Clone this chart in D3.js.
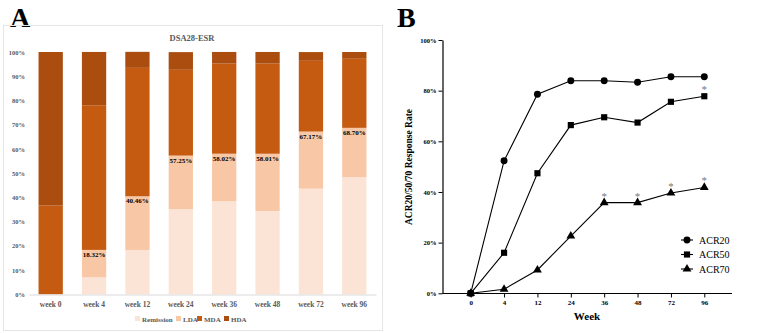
<!DOCTYPE html>
<html>
<head>
<meta charset="utf-8">
<script src="https://cdn.jsdelivr.net/npm/d3@7"></script>
<style>
  body { margin: 0; background: #fff; }
  svg { display: block; font-family: "Liberation Serif", "Times New Roman", serif; }
</style>
</head>
<body>
<div id="chart"></div>
<script>
// Panel A data (band heights, %)
const weeksA = ["week 0", "week 4", "week 12", "week 24", "week 36", "week 48", "week 72", "week 96"];
const remission = [0, 7.0, 18.3, 35.1, 38.4, 34.4, 43.6, 48.3];
const lda = [0, 11.32, 22.16, 22.15, 19.62, 23.61, 23.57, 20.4];
const mda = [36.6, 59.7, 53.0, 35.4, 37.2, 37.2, 29.2, 28.5];
const hda = [63.4, 22.0, 6.6, 7.3, 4.8, 4.8, 3.6, 2.8];
const ldaLabels = [null, "18.32%", "40.46%", "57.25%", "58.02%", "58.01%", "67.17%", "68.70%"];
const bands = ["Remission", "LDA", "MDA", "HDA"];
const bandColors = ["#fbe4d5", "#f7c7a6", "#c55a11", "#ab4d0f"];

// Panel B data
const weeksB = ["0", "4", "12", "24", "36", "48", "72", "96"];
const acr20 = [0, 52.3, 78.6, 83.9, 83.9, 83.3, 85.5, 85.5];
const acr50 = [0, 16.0, 47.4, 66.4, 69.5, 67.4, 75.6, 77.8];
const acr70 = [0, 1.6, 9.2, 22.6, 35.8, 35.8, 39.6, 41.8];
const star50 = [false, false, false, false, false, false, false, true];
const star70 = [false, false, false, false, true, true, true, true];

const width = 763, height = 333;
const svg = d3.select("#chart").append("svg").attr("width", width).attr("height", height);

// ---------- Panel A ----------
svg.append("text").attr("x", 10).attr("y", 27).attr("font-size", 28).attr("font-weight", "bold").text("A");
svg.append("rect").attr("x", 3.5).attr("y", 25.5).attr("width", 379).attr("height", 305)
    .attr("fill", "none").attr("stroke", "#e6e6e6");
svg.append("text").attr("x", 192).attr("y", 41).attr("text-anchor", "middle")
    .attr("font-size", 8.5).attr("font-weight", "bold").attr("fill", "#595959").text("DSA28-ESR");

const xA = d3.scaleBand().domain(weeksA).range([29, 376]).paddingInner(0.44).paddingOuter(0.22);
const yA = d3.scaleLinear().domain([0, 100]).range([294.3, 52]);

const yAxisA = svg.append("g").attr("transform", "translate(27,0)")
    .call(d3.axisLeft(yA).tickValues(d3.range(0, 101, 10)).tickFormat(d => d + "%").tickSize(0).tickPadding(2));
yAxisA.select(".domain").remove();
yAxisA.selectAll("text").attr("font-family", "Liberation Serif").attr("font-size", 6.5)
    .attr("font-weight", "bold").attr("fill", "#595959");

const stackRows = weeksA.map((w, i) => ({ week: w, Remission: remission[i], LDA: lda[i], MDA: mda[i], HDA: hda[i] }));
const series = d3.stack().keys(bands)(stackRows);
svg.append("g").selectAll("g").data(series).join("g")
    .attr("fill", (d, i) => bandColors[i])
    .selectAll("rect").data(d => d).join("rect")
    .attr("x", d => xA(d.data.week))
    .attr("width", xA.bandwidth())
    .attr("y", d => yA(d[1]))
    .attr("height", d => yA(d[0]) - yA(d[1]));

const xAxisA = svg.append("g").attr("transform", "translate(0,294.5)")
    .call(d3.axisBottom(xA).tickSize(0).tickPadding(7));
xAxisA.select(".domain").attr("stroke", "#d9d9d9");
xAxisA.selectAll("text").attr("font-family", "Liberation Serif").attr("font-size", 7.5)
    .attr("font-weight", "bold").attr("fill", "#595959");

svg.append("g").selectAll("text").data(weeksA.map((w, i) => ({ w, i })).filter(d => ldaLabels[d.i]))
    .join("text")
    .attr("x", d => xA(d.w) + xA.bandwidth() / 2)
    .attr("y", d => yA(remission[d.i] + lda[d.i]) + 7)
    .attr("text-anchor", "middle").attr("font-size", 7).attr("font-weight", "bold")
    .text(d => ldaLabels[d.i]);

const legA = svg.append("g").attr("transform", "translate(135,319)");
const legX = [0, 41, 62, 89];
bands.forEach((b, i) => {
    legA.append("rect").attr("x", legX[i]).attr("y", -3).attr("width", 5).attr("height", 5).attr("fill", bandColors[i]);
    legA.append("text").attr("x", legX[i] + 7).attr("y", 2.5).attr("font-size", 7).attr("font-weight", "bold")
        .attr("fill", "#595959").text(b);
});

// ---------- Panel B ----------
svg.append("text").attr("x", 397).attr("y", 27).attr("font-size", 28).attr("font-weight", "bold").text("B");

const xB = d3.scalePoint().domain(weeksB).range([470.7, 704.3]);
const yB = d3.scaleLinear().domain([0, 100]).range([293.3, 40]);

const yAxisB = svg.append("g").attr("transform", "translate(442.5,0)")
    .call(d3.axisLeft(yB).tickValues([0, 20, 40, 60, 80, 100]).tickFormat(d => d + "%").tickSize(4).tickSizeOuter(0).tickPadding(2));
yAxisB.selectAll("text").attr("font-family", "Liberation Serif").attr("font-size", 6.5).attr("font-weight", "bold");
yAxisB.select(".domain").attr("stroke-width", 1.2);

const xAxisB = svg.append("g").attr("transform", "translate(0,293.5)")
    .call(d3.axisBottom(xB).tickSize(4).tickSizeOuter(0).tickPadding(3));
xAxisB.select(".domain").attr("d", "M442.5,0H732");
xAxisB.select(".domain").attr("stroke-width", 1.2);
xAxisB.selectAll("text").attr("font-family", "Liberation Serif").attr("font-size", 7).attr("font-weight", "bold");

svg.append("text").attr("x", 587).attr("y", 320).attr("text-anchor", "middle")
    .attr("font-size", 11).attr("font-weight", "bold").text("Week");
svg.append("text").attr("transform", "translate(412,167) rotate(-90)").attr("text-anchor", "middle")
    .attr("font-size", 9.5).attr("font-weight", "bold").text("ACR20/50/70 Response Rate");

const line = d3.line().x((d, i) => xB(weeksB[i])).y(d => yB(d));
const symbols = [d3.symbolCircle, d3.symbolSquare, d3.symbolTriangle];
const sizes = [38, 38, 34];
const allSeries = [acr20, acr50, acr70];
const seriesNames = ["ACR20", "ACR50", "ACR70"];

allSeries.forEach((s, k) => {
    svg.append("path").datum(s).attr("fill", "none").attr("stroke", "#000").attr("stroke-width", 1.1).attr("d", line);
    svg.append("g").selectAll("path").data(s).join("path")
        .attr("transform", (d, i) => `translate(${xB(weeksB[i])},${yB(d)})`)
        .attr("d", d3.symbol().type(symbols[k]).size(sizes[k]));
});

// significance marks
const stars = [];
acr50.forEach((d, i) => { if (star50[i]) stars.push({ i, v: d }); });
acr70.forEach((d, i) => { if (star70[i]) stars.push({ i, v: d }); });
svg.append("g").selectAll("text").data(stars).join("text")
    .attr("x", d => xB(weeksB[d.i]))
    .attr("y", d => yB(d.v) - 3)
    .attr("text-anchor", "middle").attr("font-size", 11).attr("fill", "#777").text("*");

const legB = svg.append("g").attr("transform", "translate(687,240)");
seriesNames.forEach((n, k) => {
    const g = legB.append("g").attr("transform", `translate(0,${k * 14.5})`);
    g.append("line").attr("x1", -6).attr("x2", 6).attr("stroke", "#000").attr("stroke-width", 1.1);
    g.append("path").attr("d", d3.symbol().type(symbols[k]).size(sizes[k]));
    g.append("text").attr("x", 12).attr("y", 3.5).attr("font-size", 10).text(n);
});
</script>
</body>
</html>
